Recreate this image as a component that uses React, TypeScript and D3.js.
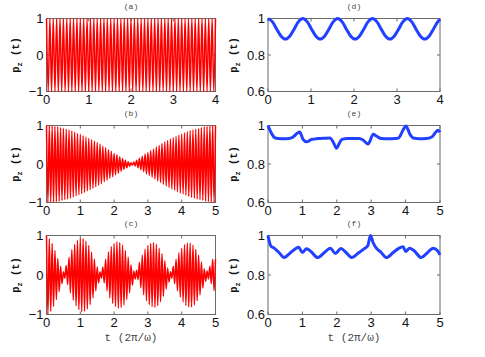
import React from 'react'
import * as d3 from 'd3'

const W = 485, H = 357

// left column: amplitude of each fast cycle
const AMP_A = [
  1, 1, 1, 1, 1, 1, 1, 1, 1, 1, 1, 1, 1, 1, 1, 1, 1, 1, 1, 1, 1, 1, 1, 1, 1,
  1, 1, 1, 1, 1, 1, 1, 1, 1, 1, 1, 1, 1, 1, 1, 1, 1, 1, 1, 1, 1, 1, 1, 1, 1,
]
const AMP_B = [
  1.0, 0.99, 0.99, 0.98, 0.97, 0.95, 0.93, 0.91, 0.89, 0.86, 0.83, 0.8,
  0.77, 0.74, 0.7, 0.67, 0.63, 0.59, 0.55, 0.51, 0.46, 0.42, 0.37, 0.33,
  0.28, 0.24, 0.19, 0.14, 0.1, 0.06, 0.03, 0.05, 0.1, 0.15, 0.2, 0.26,
  0.3, 0.35, 0.39, 0.44, 0.48, 0.53, 0.57, 0.61, 0.65, 0.68, 0.72, 0.75,
  0.78, 0.81, 0.84, 0.87, 0.89, 0.91, 0.93, 0.95, 0.97, 0.98, 0.99, 1.0,
]
const AMP_C = [
  1.0, 0.92, 0.8, 0.62, 0.42, 0.22, 0.08, 0.24, 0.45, 0.64, 0.78, 0.88,
  0.93, 0.92, 0.86, 0.75, 0.58, 0.4, 0.2, 0.08, 0.2, 0.4, 0.58, 0.72,
  0.8, 0.84, 0.82, 0.76, 0.62, 0.45, 0.26, 0.1, 0.12, 0.32, 0.5, 0.65,
  0.75, 0.8, 0.82, 0.78, 0.68, 0.54, 0.36, 0.18, 0.08, 0.22, 0.4, 0.56,
  0.68, 0.77, 0.81, 0.81, 0.76, 0.65, 0.5, 0.33, 0.16, 0.1, 0.22, 0.4,
]

// right column
const D_T = [0, 0.1, 0.2, 0.3, 0.405, 0.51, 0.61, 0.71, 0.81, 0.91, 1.01, 1.11, 1.215, 1.32, 1.42, 1.52, 1.62, 1.72, 1.82, 1.92, 2.025, 2.13, 2.23, 2.33, 2.43, 2.53, 2.63, 2.73, 2.835, 2.94, 3.04, 3.14, 3.24, 3.34, 3.44, 3.54, 3.645, 3.75, 3.85, 3.95, 4.0]
const D_Y = [
  1, 0.983, 0.943, 0.904, 0.887, 0.904, 0.943, 0.983,
  1, 0.983, 0.943, 0.904, 0.887, 0.904, 0.943, 0.983,
  1, 0.983, 0.943, 0.904, 0.887, 0.904, 0.943, 0.983,
  1, 0.983, 0.943, 0.904, 0.887, 0.904, 0.943, 0.983,
  1, 0.983, 0.943, 0.904, 0.887, 0.904, 0.943, 0.983, 0.995,
]
const E_T = [0, 0.1, 0.19, 0.3, 0.45, 0.6, 0.73, 0.85, 0.92, 1.02, 1.12, 1.26, 1.45, 1.65, 1.8, 1.9, 1.99, 2.08, 2.15, 2.3, 2.5, 2.65, 2.75, 2.91, 3.06, 3.16, 3.3, 3.5, 3.7, 3.8, 3.93, 4.01, 4.13, 4.22, 4.4, 4.6, 4.76, 4.9, 4.95, 5.0]
const E_Y = [1.0, 0.96, 0.937, 0.932, 0.931, 0.932, 0.94, 0.96, 0.966, 0.928, 0.915, 0.927, 0.932, 0.934, 0.935, 0.912, 0.882, 0.91, 0.928, 0.933, 0.933, 0.932, 0.926, 0.904, 0.954, 0.944, 0.932, 0.931, 0.932, 0.936, 0.978, 0.998, 0.953, 0.935, 0.931, 0.932, 0.94, 0.97, 0.975, 0.965]
const F_T = [0, 0.08, 0.18, 0.32, 0.47, 0.61, 0.76, 0.89, 1.0, 1.12, 1.25, 1.44, 1.64, 1.81, 1.96, 2.12, 2.27, 2.44, 2.61, 2.78, 2.9, 2.98, 3.05, 3.15, 3.29, 3.44, 3.64, 3.8, 3.93, 4.0, 4.12, 4.27, 4.45, 4.61, 4.8, 4.93, 5.0]
const F_Y = [1.0, 0.948, 0.936, 0.914, 0.888, 0.906, 0.928, 0.94, 0.914, 0.933, 0.919, 0.888, 0.914, 0.936, 0.909, 0.934, 0.914, 0.888, 0.909, 0.931, 0.948, 1.0, 0.966, 0.936, 0.914, 0.888, 0.914, 0.935, 0.943, 0.919, 0.936, 0.919, 0.888, 0.909, 0.936, 0.923, 0.902]

const RED_Y_TICKS = [-1, 0, 1]
const BLUE_Y_TICKS = [0.6, 0.8, 1]
const X_TICKS_4 = [0, 1, 2, 3, 4]
const X_TICKS_5 = [0, 1, 2, 3, 4, 5]

const COL_X = [[46.5, 215.5], [268, 440]]
const ROW_Y = [[18.5, 91.5], [125.5, 202.5], [235.5, 314.5]]

type Pt = [number, number]

// each cycle goes +amp then -amp
function fastWave(amps: number[], tMax: number): Pt[] {
  const half = tMax / (amps.length * 2)
  const pts: Pt[] = []
  for (let k = 0; k <= amps.length * 2; k++) {
    const a = amps[Math.min(Math.floor(k / 2), amps.length - 1)]
    pts.push([k * half, k % 2 === 0 ? a : -a])
  }
  return pts
}

const zip = (t: number[], y: number[]): Pt[] => t.map((v, i) => [v, y[i]])

const fmt = (v: number) => (v < 0 ? '\u2212' + Math.abs(v) : String(v))

function Panel({ col, row, title, xMax, xTicks, yDomain, yTicks, data, color, lw, xLabel }: any) {
  const [x0, x1] = COL_X[col]
  const [y0, y1] = ROW_Y[row]
  const x = d3.scaleLinear([0, xMax], [x0, x1])
  const y = d3.scaleLinear(yDomain, [y1, y0])
  const line = d3.line<Pt>().x(d => x(d[0])).y(d => y(d[1])).curve(d3.curveMonotoneX)
  const tk = 3
  const labX = col === 0 ? 19 : 237
  const cy = (y0 + y1) / 2
  return (
    <g>
      <text x={(x0 + x1) / 2} y={y0 - 10} textAnchor="middle" fontFamily="Liberation Mono" fontSize={8} fill="#444">{title}</text>
      <rect x={x0} y={y0} width={x1 - x0} height={y1 - y0} fill="white" stroke="#6a6a6a" strokeWidth={1} />
      {xTicks.map((v: number) => (
        <g key={'x' + v}>
          <line x1={x(v)} x2={x(v)} y1={y1} y2={y1 - tk} stroke="#6a6a6a" />
          <line x1={x(v)} x2={x(v)} y1={y0} y2={y0 + tk} stroke="#6a6a6a" />
          <text x={x(v)} y={y1 + 12.5} textAnchor="middle" fontFamily="Liberation Sans" fontSize={13} fill="#111">{fmt(v)}</text>
        </g>
      ))}
      {yTicks.map((v: number) => (
        <g key={'y' + v}>
          <line x1={x0} x2={x0 + tk} y1={y(v)} y2={y(v)} stroke="#6a6a6a" />
          <line x1={x1} x2={x1 - tk} y1={y(v)} y2={y(v)} stroke="#6a6a6a" />
          <text x={x0 - 3} y={y(v) + 4.5} textAnchor="end" fontFamily="Liberation Sans" fontSize={13} fill="#111">{fmt(v)}</text>
        </g>
      ))}
      <path d={line(data) || ''} fill="none" stroke={color} strokeWidth={lw} strokeLinejoin="round" />
      <text transform={`translate(${labX},${cy}) rotate(-90)`} textAnchor="middle" fontFamily="Liberation Mono" fontWeight="bold" fontSize={10.5} fill="#111">
        p<tspan dy={2.5} fontSize={7}>z</tspan><tspan dy={-2.5}> (t)</tspan>
      </text>
      {xLabel && (
        <text x={(x0 + x1) / 2} y={y1 + 26} textAnchor="middle" fontFamily="Liberation Mono" fontSize={11} fill="#444">t (2&#960;/&#969;)</text>
      )}
    </g>
  )
}

export default function App() {
  const red = '#ff0000', blue = '#2140ff'
  return (
    <div style={{ position: 'fixed', left: 0, top: 0 }}>
      <svg width={W} height={H} viewBox={`0 0 ${W} ${H}`} style={{ display: 'block', background: 'white' }}>
        <Panel col={0} row={0} title="(a)" xMax={4} xTicks={X_TICKS_4} yDomain={[-1, 1]} yTicks={RED_Y_TICKS} data={fastWave(AMP_A, 4)} color={red} lw={1.5} />
        <Panel col={0} row={1} title="(b)" xMax={5} xTicks={X_TICKS_5} yDomain={[-1, 1]} yTicks={RED_Y_TICKS} data={fastWave(AMP_B, 5)} color={red} lw={1.5} />
        <Panel col={0} row={2} title="(c)" xMax={5} xTicks={X_TICKS_5} yDomain={[-1, 1]} yTicks={RED_Y_TICKS} data={fastWave(AMP_C, 5)} color={red} lw={1.5} xLabel />
        <Panel col={1} row={0} title="(d)" xMax={4} xTicks={X_TICKS_4} yDomain={[0.6, 1]} yTicks={BLUE_Y_TICKS} data={zip(D_T, D_Y)} color={blue} lw={3} />
        <Panel col={1} row={1} title="(e)" xMax={5} xTicks={X_TICKS_5} yDomain={[0.6, 1]} yTicks={BLUE_Y_TICKS} data={zip(E_T, E_Y)} color={blue} lw={3} />
        <Panel col={1} row={2} title="(f)" xMax={5} xTicks={X_TICKS_5} yDomain={[0.6, 1]} yTicks={BLUE_Y_TICKS} data={zip(F_T, F_Y)} color={blue} lw={3} xLabel />
      </svg>
    </div>
  )
}
